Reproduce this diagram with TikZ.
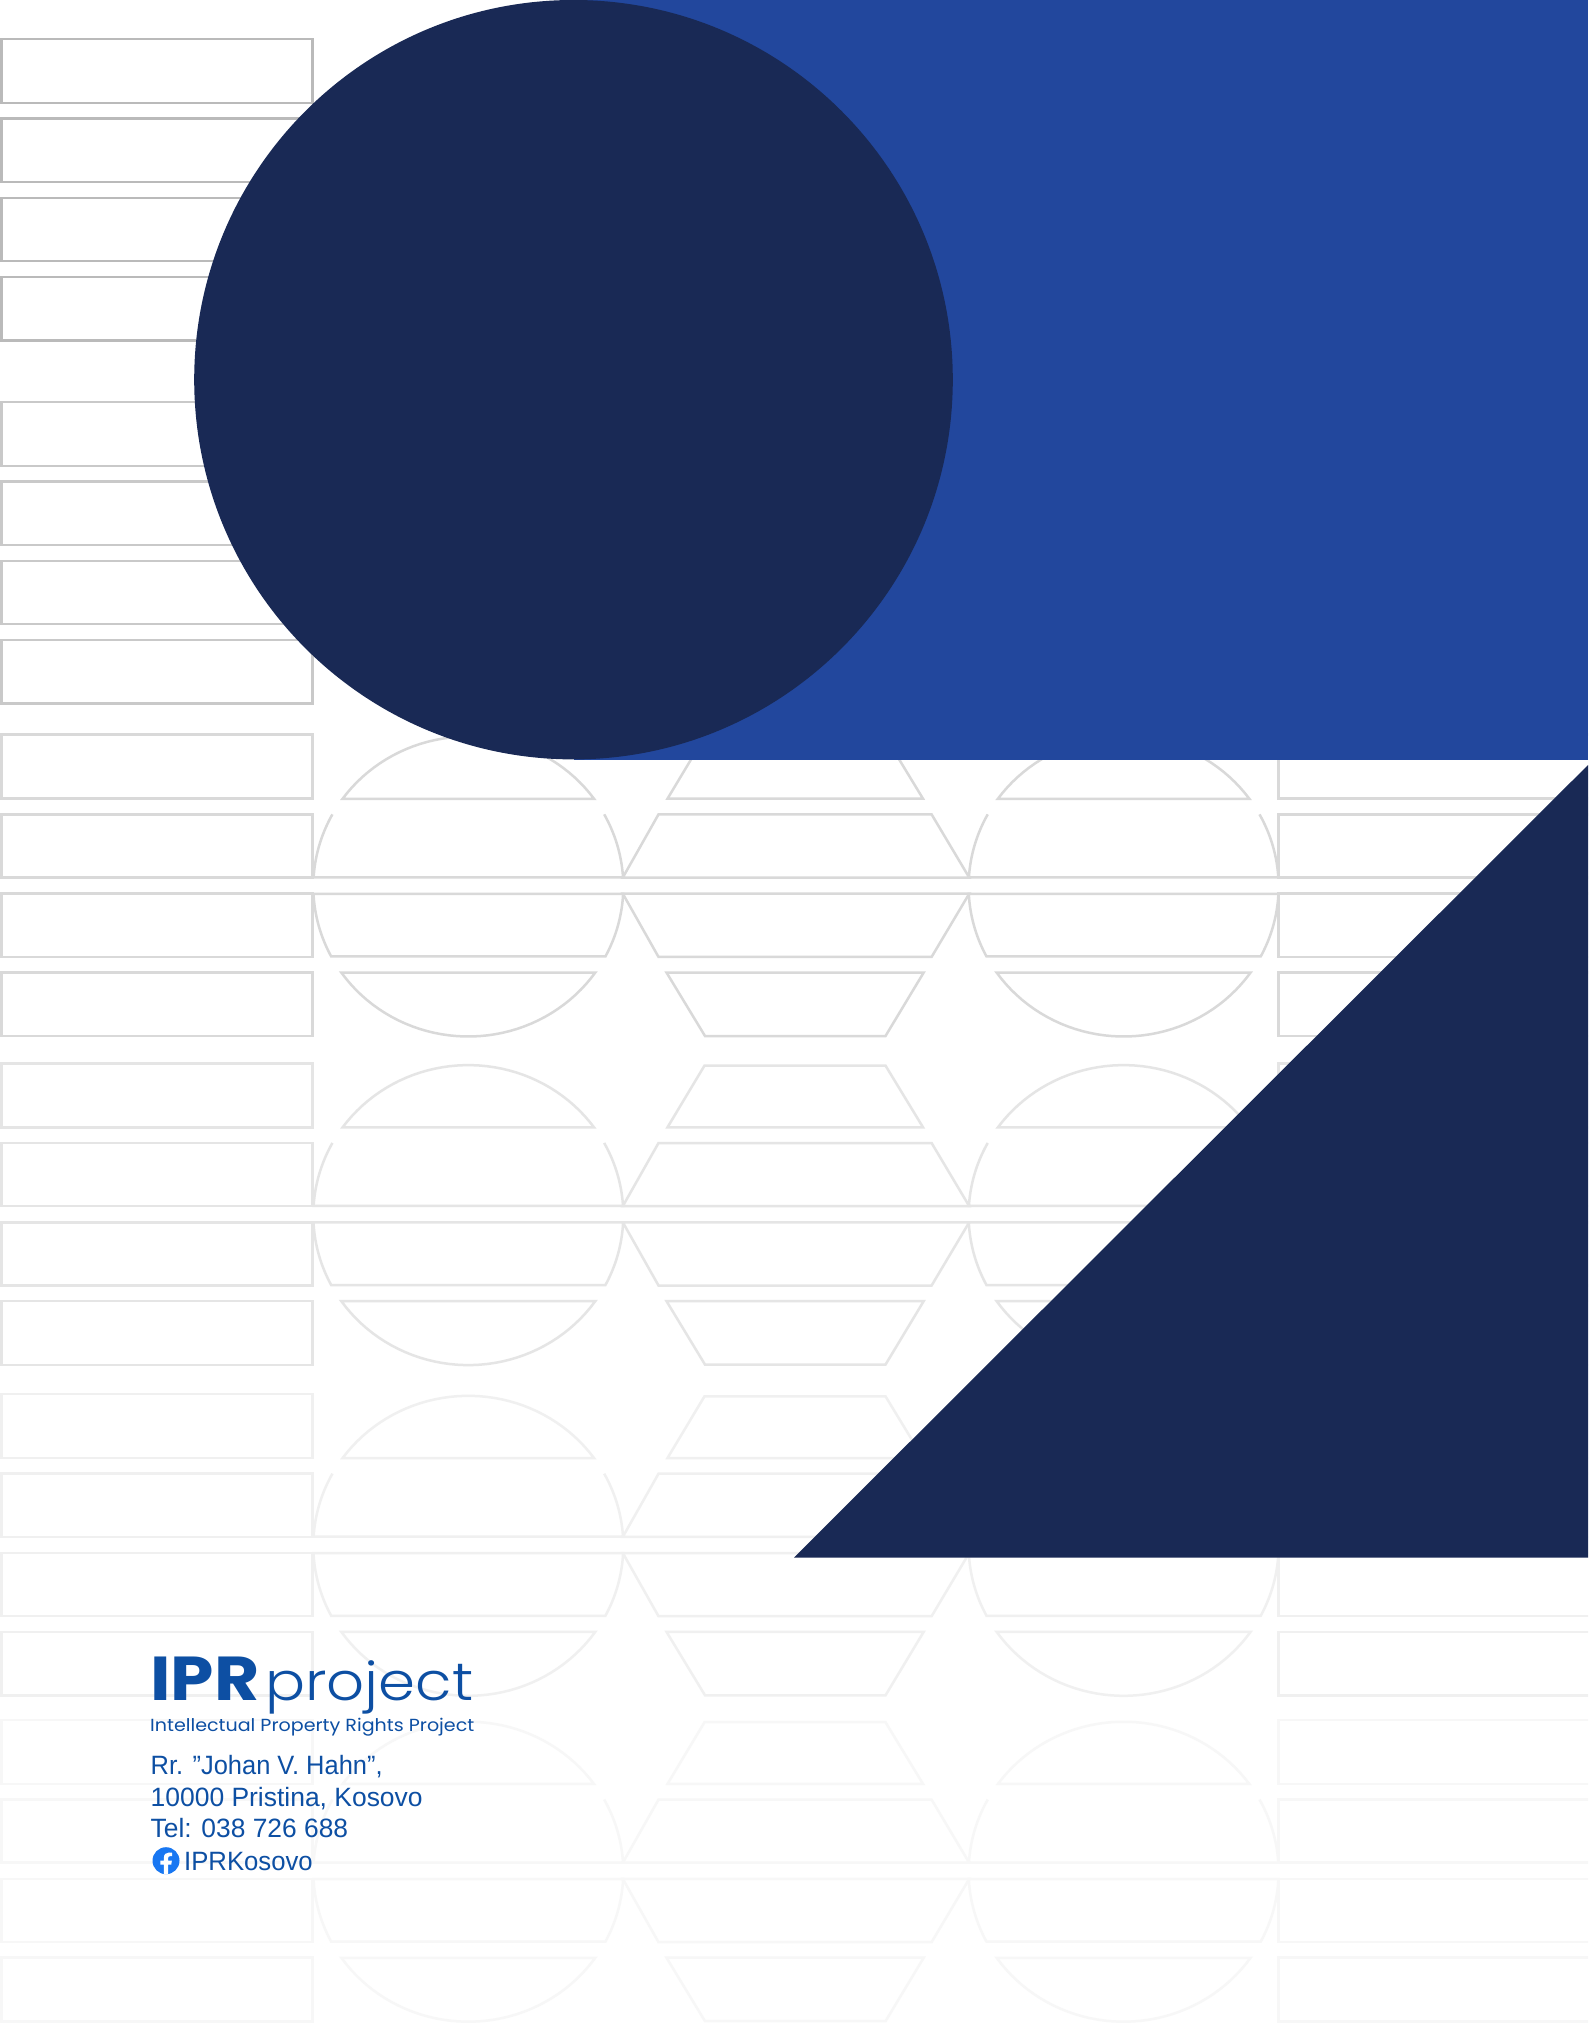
\documentclass[tikz,border=0pt]{standalone}
\usepackage{fontspec}
\setmainfont{Liberation Sans}
\newfontfamily\logobold{Poppins}[Scale=1.0]
\newfontfamily\logolight{Poppins Light}
\definecolor{navy}{HTML}{192955}
\definecolor{royal}{HTML}{22479D}
\definecolor{logoblue}{HTML}{0D4FA3}
\definecolor{fbblue}{HTML}{1877F2}
\tikzset{
  outline/.style={line width=2.5pt, line join=miter},
  infotext/.style={inner sep=0pt, anchor=base west, text=logoblue, font=\fontsize{26.5}{30}\selectfont},
}
% left rectangle column: rows are at fixed heights inside one block
\newcommand{\rectrows}{%
  \draw[outline] (1.5,734.7) rectangle (312.5,798.7);
  \draw[outline] (1.5,814.3) rectangle (312.5,877.5);
  \draw[outline] (1.5,893.7) rectangle (312.5,956.9);
  \draw[outline] (1.5,972.5) rectangle (312.5,1036.2);
}
\newcommand{\lensparts}[1]{%
  \begin{scope}[xshift=#1pt]
  \draw[outline] plot[domain=215.8:324.2,samples=40] ({155*cos(\x)},{886.5+150*sin(\x)}) -- cycle;
  \draw[outline] plot[domain=208.75:183.5,samples=24] ({155*cos(\x)},{886.5+150*sin(\x)})
     -- plot[domain=356.5:331.25,samples=24] ({155*cos(\x)},{886.5+150*sin(\x)});
  \draw[outline] plot[domain=177.2:152.2,samples=24] ({155*cos(\x)},{886.5+150*sin(\x)})
     -- plot[domain=27.8:2.8,samples=24] ({155*cos(\x)},{886.5+150*sin(\x)}) -- cycle;
  \draw[outline] plot[domain=145:35,samples=40] ({155*cos(\x)},{886.5+150*sin(\x)}) -- cycle;
  \end{scope}
}
\newcommand{\fullblock}[2]{%
  \begin{scope}[shift={(0,#1)}, draw=#2]
  \rectrows
  \lensparts{468.3}
  \lensparts{1123.6}
  \draw[outline] (667.5,798.7) -- (704.5,737) -- (885.5,737) -- (923,798.7) -- cycle;
  \draw[outline] (622.8,877.5) -- (658.5,814.4) -- (931.6,814.4) -- (969.2,877.5) -- cycle;
  \draw[outline] (622.8,893.7) -- (658.5,956.9) -- (931.6,956.9) -- (969.2,893.7) -- cycle;
  \draw[outline] (666.5,972.5) -- (705,1036) -- (885.5,1036) -- (923.7,972.5) -- cycle;
  \draw[outline] (1600,734.7) -- (1278.5,734.7) -- (1278.5,798.7) -- (1600,798.7);
  \draw[outline] (1600,814.3) -- (1278.5,814.3) -- (1278.5,877.5) -- (1600,877.5);
  \draw[outline] (1600,893.7) -- (1278.5,893.7) -- (1278.5,956.9) -- (1600,956.9);
  \draw[outline] (1600,972.5) -- (1278.5,972.5) -- (1278.5,1036.2) -- (1600,1036.2);
  \end{scope}
}
\begin{document}
\begin{tikzpicture}[x=1pt,y=-1pt]
\useasboundingbox (0,0) rectangle (1588,2041);
\clip (0,0) rectangle (1588,2041);
\fill[white] (0,0) rectangle (1588,2041);
% rectangle-only blocks behind the large circle
\begin{scope}[shift={(0,-695.7)}, draw=black!27] \rectrows \end{scope}
\begin{scope}[shift={(0,-332.7)}, draw=black!21] \rectrows \end{scope}
\fullblock{0}{black!15}
\fullblock{328.6}{black!10}
\fullblock{659.3}{black!6}
\fullblock{985.2}{black!3}
% large colour shapes
\fill[royal] (573.5,0) rectangle (1588,759.5);
\fill[navy] (573.5,379.7) ellipse [x radius=379.3pt, y radius=379.7pt];
\fill[navy] (1588,765) -- (1588,1557.5) -- (794,1557.5) -- cycle;
% logo
\node[inner sep=0pt, anchor=base west, text=logoblue] (iprmark) at (150,1700.7)
  {\scalebox{1.12}[1]{\logobold\bfseries\fontsize{62}{62}\selectfont IPR}};
\node[inner sep=0pt, anchor=base west, text=logoblue] (projectmark) at (265,1700.7)
  {\scalebox{1.12}[1]{\logolight\fontsize{53}{53}\selectfont project}};
\node[inner sep=0pt, anchor=base west, text=logoblue] (tagline) at (150,1731.7)
  {\scalebox{1.09}[1]{\logobold\fontsize{17.5}{20}\selectfont Intellectual Property Rights Project}};
% address
\node[infotext] (street) at (150.5,1774) {\scalebox{0.96}[1]{Rr. ”Johan V. Hahn”,}};
\node[infotext] (city) at (150.5,1806) {\scalebox{0.998}[1]{10000 Pristina, Kosovo}};
\node[infotext] (phone) at (150.5,1837.7) {\scalebox{0.995}[1]{Tel: 038 726 688}};
\node[infotext] (fbname) at (184,1870) {\scalebox{0.97}[1]{IPRKosovo}};
% facebook icon
\fill[fbblue] (166,1860.7) circle [radius=13.5pt];
\begin{scope}[shift={(152.5,1847.2)}, x=1.125pt, y=-1.125pt]
\fill[white] (16.671,15.469) -- (17.203,12) -- (13.875,12) -- (13.875,9.75)
  .. controls (13.875,8.801) and (14.34,7.876) .. (15.831,7.876)
  -- (17.344,7.876) -- (17.344,4.922)
  .. controls (17.344,4.922) and (15.97,4.688) .. (14.658,4.688)
  .. controls (11.917,4.688) and (10.125,6.349) .. (10.125,9.356)
  -- (10.125,12) -- (7.078,12) -- (7.078,15.469) -- (10.125,15.469)
  -- (10.125,23.854) -- (13.875,23.854) -- (13.875,15.469) -- cycle;
\end{scope}
\end{tikzpicture}
\end{document}
